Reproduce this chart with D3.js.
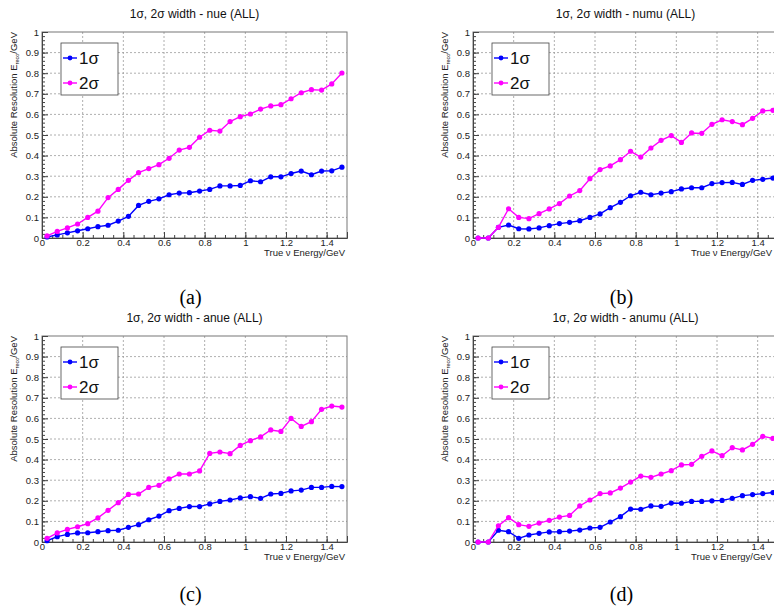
<!DOCTYPE html>
<html>
<head>
<meta charset="utf-8">
<style>
    body { margin: 0; background: #fff; }
    svg { display: block; font-family: "Liberation Sans", Arial, sans-serif; }
    .grid line { stroke: #9a9a9a; stroke-dasharray: 2,2; stroke-width: 0.8; }
    .tick text { font-size: 9.5px; fill: #222; }
</style>
</head>
<body>
<svg width="774" height="615"></svg>
<script src="https://d3js.org/d3.v7.min.js"></script>
<script>
    // bin centres in GeV
    let energy = [0.025, 0.075, 0.125, 0.175, 0.225, 0.275, 0.325, 0.375, 0.425, 0.475,
        0.525, 0.575, 0.625, 0.675, 0.725, 0.775, 0.825, 0.875, 0.925, 0.975,
        1.025, 1.075, 1.125, 1.175, 1.225, 1.275, 1.325, 1.375, 1.425, 1.475];

    let nue1 = [0.005, 0.015, 0.025, 0.035, 0.045, 0.055, 0.062, 0.082, 0.105, 0.158,
        0.178, 0.19, 0.21, 0.218, 0.22, 0.228, 0.236, 0.253, 0.253, 0.255,
        0.278, 0.273, 0.297, 0.297, 0.313, 0.325, 0.307, 0.325, 0.326, 0.344];
    let nue2 = [0.01, 0.032, 0.049, 0.068, 0.1, 0.13, 0.196, 0.236, 0.28, 0.317,
        0.337, 0.356, 0.387, 0.427, 0.44, 0.489, 0.523, 0.519, 0.565, 0.589,
        0.602, 0.626, 0.641, 0.647, 0.676, 0.705, 0.72, 0.718, 0.748, 0.801];

    let numu1 = [0, 0, 0.052, 0.063, 0.045, 0.044, 0.049, 0.06, 0.07, 0.076,
        0.084, 0.1, 0.117, 0.147, 0.173, 0.205, 0.222, 0.21, 0.218, 0.225,
        0.238, 0.244, 0.244, 0.264, 0.269, 0.27, 0.26, 0.28, 0.285, 0.291];
    let numu2 = [0, 0, 0.052, 0.142, 0.1, 0.094, 0.118, 0.141, 0.167, 0.204,
        0.23, 0.288, 0.332, 0.35, 0.38, 0.421, 0.393, 0.437, 0.474, 0.497,
        0.464, 0.51, 0.508, 0.552, 0.574, 0.565, 0.55, 0.581, 0.617, 0.62];

    let anue1 = [0.006, 0.026, 0.037, 0.044, 0.045, 0.05, 0.055, 0.057, 0.071, 0.084,
        0.108, 0.126, 0.152, 0.163, 0.172, 0.172, 0.185, 0.197, 0.204, 0.214,
        0.22, 0.212, 0.233, 0.236, 0.248, 0.252, 0.265, 0.265, 0.27, 0.269];
    let anue2 = [0.018, 0.044, 0.061, 0.074, 0.089, 0.117, 0.154, 0.191, 0.231, 0.233,
        0.265, 0.275, 0.306, 0.33, 0.33, 0.345, 0.43, 0.437, 0.429, 0.469,
        0.492, 0.51, 0.544, 0.537, 0.6, 0.561, 0.584, 0.644, 0.66, 0.655];

    let anumu1 = [0, 0, 0.057, 0.05, 0.018, 0.034, 0.042, 0.049, 0.05, 0.053,
        0.058, 0.068, 0.071, 0.097, 0.123, 0.16, 0.159, 0.175, 0.173, 0.189,
        0.188, 0.197, 0.197, 0.2, 0.202, 0.212, 0.225, 0.23, 0.235, 0.24];
    let anumu2 = [0, 0, 0.079, 0.118, 0.084, 0.076, 0.092, 0.105, 0.121, 0.129,
        0.175, 0.204, 0.235, 0.238, 0.262, 0.291, 0.32, 0.314, 0.33, 0.346,
        0.374, 0.377, 0.416, 0.442, 0.419, 0.458, 0.447, 0.474, 0.513, 0.503];

    let panels = [
        { name: "nue", tag: "(a)", s1: nue1, s2: nue2, left: 42, top: 32, capY: 304 },
        { name: "numu", tag: "(b)", s1: numu1, s2: numu2, left: 473, top: 32, capY: 304 },
        { name: "anue", tag: "(c)", s1: anue1, s2: anue2, left: 42, top: 336, capY: 601 },
        { name: "anumu", tag: "(d)", s1: anumu1, s2: anumu2, left: 473, top: 336, capY: 601 }
    ];

    let w = 305, h = 206;
    let blue = "#0000ff", pink = "#ff00ff";
    let svg = d3.select("svg");

    panels.forEach(p => {
        let g = svg.append("g").attr("transform", `translate(${p.left},${p.top})`);

        let x = d3.scaleLinear().domain([0, 1.5]).range([0, w]);
        let y = d3.scaleLinear().domain([0, 1]).range([h, 0]);

        // dashed grid
        let grid = g.append("g").attr("class", "grid");
        grid.selectAll(".gx").data(d3.range(0.2, 1.5, 0.2)).join("line")
            .attr("x1", d => x(d)).attr("x2", d => x(d)).attr("y1", 0).attr("y2", h);
        grid.selectAll(".gy").data(d3.range(0.1, 1.0, 0.1)).join("line")
            .attr("x1", 0).attr("x2", w).attr("y1", d => y(d)).attr("y2", d => y(d));

        // frame
        g.append("rect").attr("width", w).attr("height", h)
            .attr("fill", "none").attr("stroke", "#777").attr("stroke-width", 1);

        // axes, ticks pointing inward like ROOT
        let xAxis = g.append("g").attr("transform", `translate(0,${h})`)
            .call(d3.axisTop(x).tickValues(d3.range(0, 1.45, 0.2)).tickSize(6).tickFormat(d3.format("~g")))
            .call(a => a.select(".domain").attr("stroke", "#444"));
        xAxis.selectAll(".tick text").attr("y", 5).attr("dy", "0.32em");
        g.append("g").attr("transform", `translate(0,${h})`)
            .call(d3.axisTop(x).tickValues(d3.range(0.05, 1.5, 0.05)).tickSize(3).tickFormat(""))
            .call(a => a.select(".domain").remove());

        let yAxis = g.append("g")
            .call(d3.axisRight(y).ticks(10).tickSize(6).tickFormat(d3.format("~g")))
            .call(a => a.select(".domain").attr("stroke", "#444"));
        yAxis.selectAll(".tick text").attr("x", -3).attr("text-anchor", "end");
        g.append("g")
            .call(d3.axisRight(y).tickValues(d3.range(0.02, 1, 0.02)).tickSize(3).tickFormat(""))
            .call(a => a.select(".domain").remove());
        g.selectAll(".tick line").attr("stroke", "#444");

        // series
        let line = d3.line().x(d => x(d[0])).y(d => y(d[1]));
        [[p.s1, blue], [p.s2, pink]].forEach(([vals, col]) => {
            let pts = energy.map((e, i) => [e, vals[i]]);
            g.append("path").datum(pts).attr("d", line)
                .attr("fill", "none").attr("stroke", col).attr("stroke-width", 1.4);
            g.selectAll(null).data(pts).join("circle")
                .attr("cx", d => x(d[0])).attr("cy", d => y(d[1])).attr("r", 2.6).attr("fill", col);
        });

        // legend
        let lg = g.append("g").attr("transform", "translate(19,11)");
        lg.append("rect").attr("width", 57).attr("height", 52)
            .attr("fill", "#fff").attr("stroke", "#444").attr("stroke-width", 0.8);
        [["1σ", blue, 15], ["2σ", pink, 40]].forEach(([lab, col, ly]) => {
            lg.append("line").attr("x1", 2).attr("x2", 16).attr("y1", ly).attr("y2", ly)
                .attr("stroke", col).attr("stroke-width", 1.4);
            lg.append("circle").attr("cx", 9).attr("cy", ly).attr("r", 2.4).attr("fill", col);
            lg.append("text").attr("x", 18).attr("y", ly).attr("dy", "0.35em")
                .attr("font-size", 17).attr("fill", "#111").text(lab);
        });

        // titles
        g.append("text").attr("x", w / 2).attr("y", -14).attr("text-anchor", "middle")
            .attr("font-size", 12).attr("fill", "#111").text(`1σ, 2σ width - ${p.name} (ALL)`);
        // keep the x title inside the window for the right-hand panels
        g.append("text").attr("x", Math.min(w - 2, 772 - p.left)).attr("y", h + 18).attr("text-anchor", "end")
            .attr("font-size", 9.5).attr("fill", "#222").text("True ν Energy/GeV");
        let yt = g.append("text").attr("transform", `translate(-25,0) rotate(-90)`)
            .attr("text-anchor", "end").attr("font-size", 9.5).attr("fill", "#222");
        yt.append("tspan").text("Absolute Resolution E");
        yt.append("tspan").attr("font-size", 5.5).attr("dy", 2).text("reco");
        yt.append("tspan").attr("dy", -2).text("/GeV");

        // sub-figure caption
        g.append("text").attr("x", w / 2 - 4).attr("y", p.capY - p.top).attr("text-anchor", "middle")
            .attr("font-family", "'Liberation Serif', 'Times New Roman', serif")
            .attr("font-size", 20).attr("fill", "#000").text(p.tag);
    });
</script>
</body>
</html>
